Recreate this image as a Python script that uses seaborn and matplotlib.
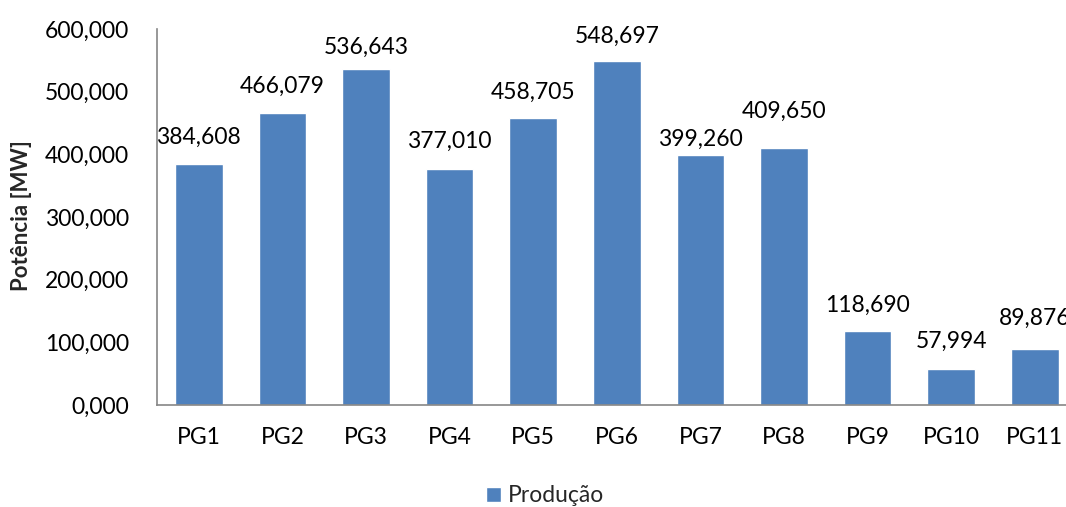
import pandas as pd
import seaborn as sns
import matplotlib.pyplot as plt

geradores = ["PG1", "PG2", "PG3", "PG4", "PG5", "PG6", "PG7", "PG8", "PG9", "PG10", "PG11"]
producao = [384.608, 466.079, 536.643, 377.010, 458.705, 548.697, 399.260, 409.650, 118.690, 57.994, 89.876]
y_ticks = [0, 100, 200, 300, 400, 500, 600]
# deslocamento dos rotulos acima das barras (como no grafico original)
rot_offset = [42, 42, 34, 44, 40, 40, 24, 59, 40, 43, 48]


def fmt(v):
    # formato portugues: virgula decimal
    return "{:.3f}".format(v).replace(".", ",")


sns.set_style("white")
plt.rcParams["font.family"] = ["Lato", "DejaVu Sans"]

df = pd.DataFrame({"gerador": geradores, "producao": producao})

fig = plt.figure(figsize=(10.66, 5.07), dpi=100)
ax = fig.add_axes([0.1473, 0.2012, 0.8627, 0.7416])

sns.barplot(data=df, x="gerador", y="producao", color="#4F81BD", saturation=1,
            width=0.57, ax=ax, label="Produção")

for i, v in enumerate(producao):
    ax.text(i, v + rot_offset[i], fmt(v), ha="center", va="center", fontsize=16.5,
            color="#000000", clip_on=False)

ax.set_ylim(0, 600)
ax.set_yticks(y_ticks)
ax.set_yticklabels([fmt(t) for t in y_ticks], fontsize=16.5)
ax.tick_params(axis="x", labelsize=16.5, length=0, pad=16, colors="#000000")
ax.tick_params(axis="y", length=0, pad=20, colors="#000000")
ax.set_xlabel("")
ax.set_ylabel("Potência [MW]", fontsize=16, fontweight="bold")
ax.yaxis.set_label_coords(-0.136, 0.505)

for s in ["top", "right"]:
    ax.spines[s].set_visible(False)
for s in ["left", "bottom"]:
    ax.spines[s].set_color("#868686")
    ax.spines[s].set_linewidth(1.2)

h, l = ax.get_legend_handles_labels()
if ax.get_legend():
    ax.get_legend().remove()
fig.legend(h, l, loc="center", bbox_to_anchor=(0.511, 0.022), frameon=False,
           fontsize=16.5, handlelength=0.65, handleheight=0.65, handletextpad=0.3)

fig.savefig("out.png", dpi=100)
